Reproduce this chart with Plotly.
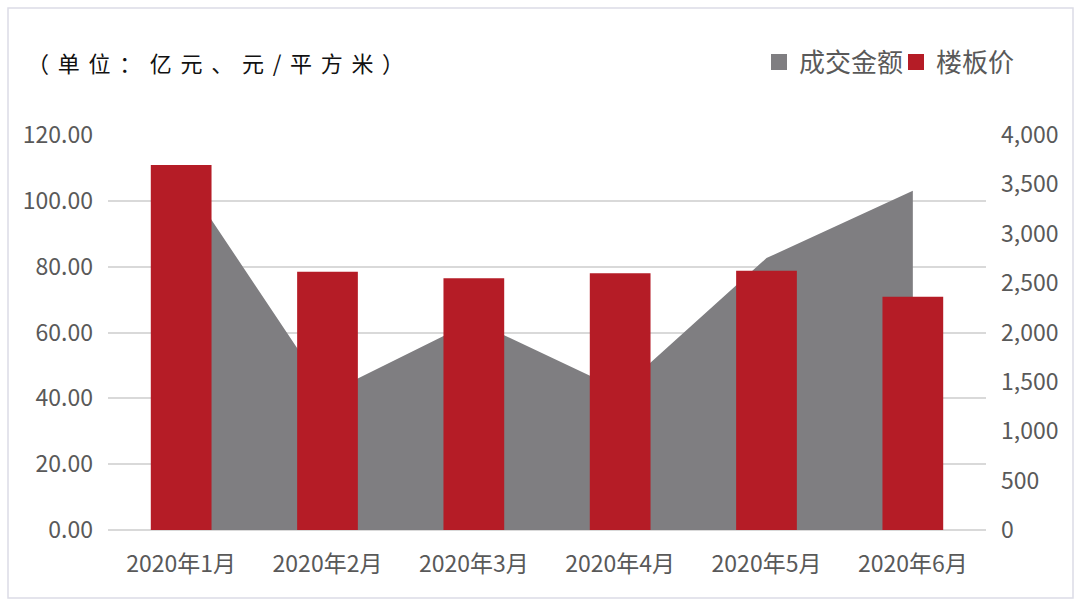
import plotly.graph_objects as go

months = ["2020年1月", "2020年2月", "2020年3月", "2020年4月", "2020年5月", "2020年6月"]
amount = [108.0, 41.5, 63.5, 42.5, 82.6, 103.1]      # 成交金额（亿元）
price = [3696, 2616, 2549, 2600, 2626, 2363]          # 楼板价（元/平方米）

GRAY = "#7f7e81"
RED = "#b51c26"
TXT = "#595959"
FONT = "Noto Sans CJK SC, Open Sans, sans-serif"

fig = go.Figure()
fig.add_trace(go.Scatter(
    x=months, y=amount, name="成交金额", mode="none", fill="tozeroy",
    fillcolor=GRAY, showlegend=False, yaxis="y"))
fig.add_trace(go.Bar(
    x=months, y=price, name="楼板价", marker=dict(color=RED, line_width=0),
    width=0.415, yaxis="y2", showlegend=False))
# legend entries (square swatches)
fig.add_trace(go.Scatter(
    x=[None], y=[None], name="成交金额", mode="markers",
    marker=dict(symbol="square", size=16, color=GRAY), yaxis="y", legend="legend"))
fig.add_trace(go.Scatter(
    x=[None], y=[None], name="楼板价", mode="markers",
    marker=dict(symbol="square", size=16, color=RED), yaxis="y", legend="legend2"))

L, R, T, B = 108, 94, 135, 84
W, H = 1080, 614
pw, ph = W - L - R, H - T - B

leg_common = dict(orientation="h", xanchor="right", y=(H - B - 62) / ph, yanchor="middle",
                  font=dict(size=26, color=TXT), itemwidth=30, bgcolor="rgba(0,0,0,0)")

fig.update_layout(
    width=W, height=H,
    margin=dict(l=L, r=R, t=T, b=B),
    paper_bgcolor="white", plot_bgcolor="white",
    font=dict(family=FONT, size=23, color=TXT),
    barmode="overlay",
    showlegend=True,
    legend=dict(x=(909 - L) / pw, **leg_common),
    legend2=dict(x=(1020 - L) / pw, **leg_common),
    xaxis=dict(type="category", showgrid=False, showline=False, zeroline=False,
               ticks="", ticklabelstandoff=18, tickfont=dict(size=23, color=TXT)),
    yaxis=dict(range=[0, 120], dtick=20, tickformat=".2f", showgrid=True,
               gridcolor="#d9d9d9", gridwidth=1.5, zeroline=True,
               zerolinecolor="#d9d9d9", zerolinewidth=1.5, showline=False,
               ticks="", ticklabelstandoff=14, tickfont=dict(size=23, color=TXT)),
    yaxis2=dict(range=[0, 4000], dtick=500, tickformat=",", overlaying="y",
                side="right", showgrid=False, zeroline=False, showline=False,
                ticks="", ticklabelstandoff=14, tickfont=dict(size=23, color=TXT)),
)

sp = "\u2004\u200a"
title = sp.join(list("（单位：亿元、元/平方米）"))
fig.add_annotation(text=title, xref="paper", yref="paper",
                   x=(25 - L) / pw, y=(H - B - 62) / ph, xanchor="left", yanchor="middle",
                   showarrow=False, font=dict(size=22, color="#111111", family=FONT))

fig.add_shape(type="rect", xref="paper", yref="paper",
              x0=(8 - L) / pw, x1=(1073 - L) / pw,
              y0=(H - B - 598) / ph, y1=(H - B - 8) / ph,
              line=dict(color="#dcdce6", width=1.5), fillcolor="rgba(0,0,0,0)", layer="below")

fig.write_html("out.html")
